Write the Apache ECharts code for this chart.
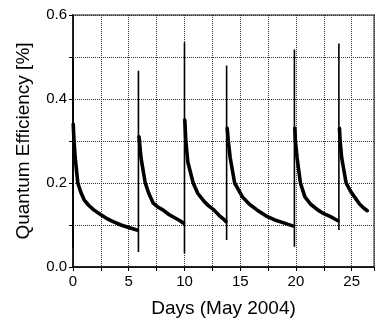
<!DOCTYPE html>
<html>
<head>
<meta charset="utf-8">
<script src="https://cdn.jsdelivr.net/npm/echarts@6/dist/echarts.min.js"></script>
<style>html,body{margin:0;padding:0;background:#fff}#c{width:377px;height:324px}</style>
</head>
<body>
<div id="c"></div>
<script>
// Decay segments (days, quantum efficiency %)
var cycle1Days = [0.02, 0.09, 0.2, 0.43, 0.7, 1.0, 1.4, 1.86, 2.4, 3.0, 3.6, 4.3, 5.0, 5.73];
var cycle1Vals = [0.34, 0.30, 0.26, 0.20, 0.178, 0.16, 0.147, 0.136, 0.126, 0.116, 0.108, 0.100, 0.094, 0.088];
var cycle2Days = [5.92, 5.96, 6.1, 6.48, 6.8, 7.2, 7.6, 8.06, 8.6, 9.2, 9.6, 9.92];
var cycle2Vals = [0.31, 0.30, 0.26, 0.20, 0.175, 0.152, 0.143, 0.136, 0.125, 0.116, 0.110, 0.104];
var cycle3Days = [10.03, 10.12, 10.3, 10.78, 11.2, 11.8, 12.2, 12.64, 13.1, 13.5, 13.73];
var cycle3Vals = [0.35, 0.30, 0.25, 0.20, 0.175, 0.155, 0.145, 0.136, 0.123, 0.114, 0.108];
var cycle4Days = [13.83, 13.93, 14.1, 14.5, 15.2, 15.8, 16.5, 17.3, 18.1, 18.9, 19.7];
var cycle4Vals = [0.33, 0.30, 0.26, 0.20, 0.167, 0.150, 0.136, 0.122, 0.112, 0.105, 0.098];
var cycle5Days = [19.9, 19.95, 20.1, 20.4, 20.8, 21.3, 21.95, 22.5, 23.1, 23.76];
var cycle5Vals = [0.33, 0.30, 0.26, 0.20, 0.167, 0.150, 0.136, 0.127, 0.120, 0.110];
var cycle6Days = [23.9, 23.96, 24.1, 24.5, 24.9, 25.25, 25.7, 26.1, 26.4];
var cycle6Vals = [0.33, 0.30, 0.26, 0.20, 0.180, 0.167, 0.150, 0.140, 0.134];
// Spikes at cycle restarts
var spikeDays = [0.0, 5.87, 10.0, 13.78, 19.86, 23.85];
var spikeLow  = [0.045, 0.036, 0.033, 0.064, 0.048, 0.088];
var spikeHigh = [0.50, 0.467, 0.535, 0.48, 0.518, 0.532];
// Axis labels
var xLabelValues = [0, 5, 10, 15, 20, 25];
var yLabelValues = [0.0, 0.2, 0.4, 0.6];

var cycles = [[cycle1Days, cycle1Vals], [cycle2Days, cycle2Vals], [cycle3Days, cycle3Vals],
              [cycle4Days, cycle4Vals], [cycle5Days, cycle5Vals], [cycle6Days, cycle6Vals]];
var decayData = [];
cycles.forEach(function (c) {
  for (var i = 0; i < c[0].length; i++) decayData.push([c[0][i], c[1][i]]);
  decayData.push([c[0][c[0].length - 1], '-']);
});
var spikeData = [];
for (var i = 0; i < spikeDays.length; i++) {
  spikeData.push([spikeDays[i], spikeLow[i]]);
  spikeData.push([spikeDays[i], spikeHigh[i]]);
  spikeData.push([spikeDays[i], '-']);
}

var font = 'Liberation Sans, Arial, sans-serif';
var chart = echarts.init(document.getElementById('c'), null, {renderer: 'canvas'});
chart.setOption({
  animation: false,
  grid: {left: 73, top: 15, width: 315, height: 252, show: true, borderColor: '#888', borderWidth: 2, backgroundColor: 'transparent'},
  xAxis: {
    type: 'value', min: 0, max: 27, interval: 2.5,
    name: 'Days (May 2004)', nameLocation: 'middle', nameGap: 32,
    nameTextStyle: {fontFamily: font, fontSize: 19, color: '#000'},
    axisLine: {onZero: false, lineStyle: {color: '#000', width: 1.5}},
    axisTick: {show: true, length: 4, lineStyle: {color: '#000'}},
    axisLabel: {fontFamily: font, fontSize: 15, color: '#000', margin: 7,
      formatter: function (v) { return xLabelValues.indexOf(v) >= 0 ? String(v) : ''; }},
    splitLine: {show: true, lineStyle: {color: '#333', type: 'dotted', width: 1}}
  },
  yAxis: {
    type: 'value', min: 0, max: 0.6, interval: 0.1,
    name: 'Quantum Efficiency [%]', nameLocation: 'middle', nameGap: 40,
    nameTextStyle: {fontFamily: font, fontSize: 19, color: '#000'},
    axisLine: {show: true, onZero: false, lineStyle: {color: '#000', width: 1.5}},
    axisTick: {show: true, length: 4, lineStyle: {color: '#000'}},
    axisLabel: {fontFamily: font, fontSize: 15, color: '#000', margin: 6,
      formatter: function (v) {
        var r = Math.round(v * 10) / 10;
        for (var k = 0; k < yLabelValues.length; k++) if (Math.abs(yLabelValues[k] - r) < 1e-6) return r.toFixed(1);
        return '';
      }},
    splitLine: {show: true, lineStyle: {color: '#333', type: 'dotted', width: 1}}
  },
  series: [
    {type: 'line', data: decayData, showSymbol: false, connectNulls: false,
     lineStyle: {color: '#000', width: 3.6, join: 'round', cap: 'round'}, clip: true},
    {type: 'line', data: spikeData, showSymbol: false, connectNulls: false,
     lineStyle: {color: '#000', width: 1.6}, clip: true}
  ]
});
</script>
</body>
</html>
